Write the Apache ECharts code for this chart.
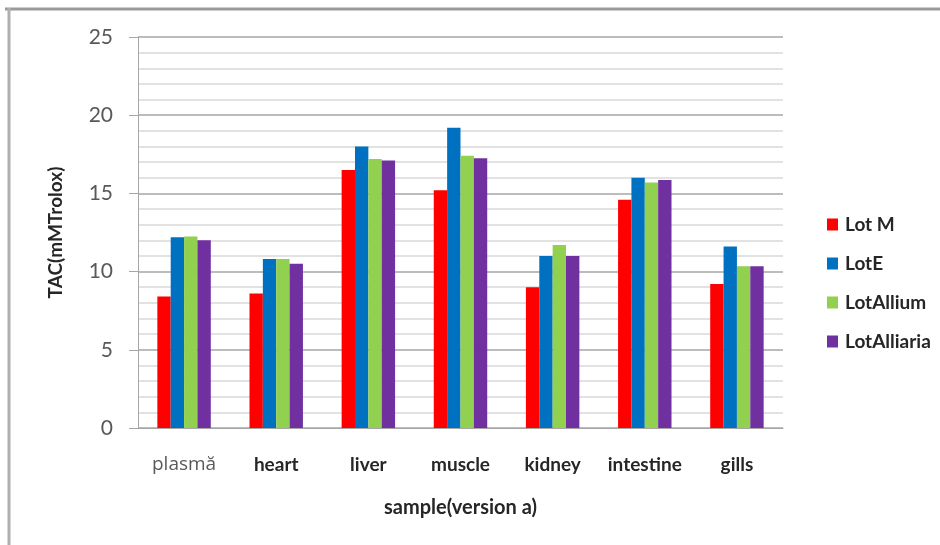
<!DOCTYPE html>
<html>
<head>
<meta charset="utf-8">
<title>TAC by sample</title>
<script src="https://cdn.jsdelivr.net/npm/echarts@6/dist/echarts.min.js"></script>
<style>
  html, body { margin: 0; padding: 0; background: #ffffff; }
  #chart { width: 940px; height: 545px; }
</style>
</head>
<body>
<div id="chart"></div>
<script>
// Sample categories and TAC values (mM Trolox) per lot
const categories = ['plasmă', 'heart', 'liver', 'muscle', 'kidney', 'intestine', 'gills'];
const seriesNames = ['Lot M', 'LotE', 'LotAllium', 'LotAlliaria'];
const lotM        = [8.4, 8.6, 16.5, 15.2, 9.0, 14.6, 9.2];
const lotE        = [12.2, 10.8, 18.0, 19.2, 11.0, 16.0, 11.6];
const lotAllium   = [12.25, 10.8, 17.2, 17.4, 11.7, 15.7, 10.35];
const lotAlliaria = [12.0, 10.5, 17.1, 17.25, 11.0, 15.85, 10.35];
const colors = ['#ff0000', '#0070c0', '#92d050', '#7030a0'];

const FONT = 'Lato, "Open Sans", sans-serif';

const chart = echarts.init(document.getElementById('chart'), null, { renderer: 'canvas' });

const dataSets = [lotM, lotE, lotAllium, lotAlliaria];
const series = dataSets.map((d, i) => ({
  name: seriesNames[i],
  type: 'bar',
  data: d,
  barGap: '0%',
  barCategoryGap: '42%',
  itemStyle: { color: colors[i] },
  animation: false
}));

chart.setOption({
  backgroundColor: '#ffffff',
  animation: false,
  color: colors,
  grid: { left: 138, right: 157, top: 37, bottom: 117, containLabel: false },
  legend: {
    orient: 'vertical',
    left: 822,
    top: 210,
    itemWidth: 11,
    itemHeight: 12,
    itemGap: 20,
    icon: 'rect',
    textStyle: { fontFamily: FONT, fontSize: 19, fontWeight: 'bold', color: '#262626', padding: [0, 0, 0, 2] },
    data: seriesNames
  },
  xAxis: {
    type: 'category',
    data: categories,
    name: 'sample(version a)',
    nameLocation: 'middle',
    nameGap: 70,
    nameTextStyle: { fontFamily: FONT, fontSize: 20, fontWeight: 'bold', color: '#262626' },
    axisLine: { lineStyle: { color: '#a6a6a6', width: 1 } },
    axisTick: { show: false },
    axisLabel: {
      margin: 27,
      fontFamily: FONT,
      formatter: (v, i) => i === 0 ? '{n|' + v + '}' : '{b|' + v + '}',
      rich: {
        n: { fontFamily: '"Open Sans", sans-serif', fontSize: 19, color: '#595959', lineHeight: 20 },
        b: { fontFamily: FONT, fontSize: 19, fontWeight: 'bold', color: '#262626', lineHeight: 20 }
      }
    }
  },
  yAxis: {
    type: 'value',
    min: 0,
    max: 25,
    interval: 5,
    name: 'TAC(mMTrolox)',
    nameLocation: 'middle',
    nameGap: 73,
    nameTextStyle: { fontFamily: FONT, fontSize: 19, fontWeight: 'bold', color: '#262626' },
    axisLine: { show: true, lineStyle: { color: '#a6a6a6', width: 1 } },
    axisTick: { show: true, length: 9, inside: false, lineStyle: { color: '#a6a6a6' } },
    axisLabel: { margin: 25, fontFamily: FONT, fontSize: 21, color: '#595959' },
    splitLine: { show: true, lineStyle: { color: '#a6a6a6', width: 1.5 } },
    minorTick: { show: false, splitNumber: 5 },
    minorSplitLine: { show: true, lineStyle: { color: '#d9d9d9', width: 1.5 } }
  },
  graphic: [
    { type: 'line', shape: { x1: 5, y1: 9, x2: 940, y2: 9 }, style: { stroke: '#9a9a9a', lineWidth: 3 }, silent: true },
    { type: 'line', shape: { x1: 9, y1: 8, x2: 9, y2: 545 }, style: { stroke: '#b0b0b0', lineWidth: 3 }, silent: true }
  ],
  series: series
});
</script>
</body>
</html>
